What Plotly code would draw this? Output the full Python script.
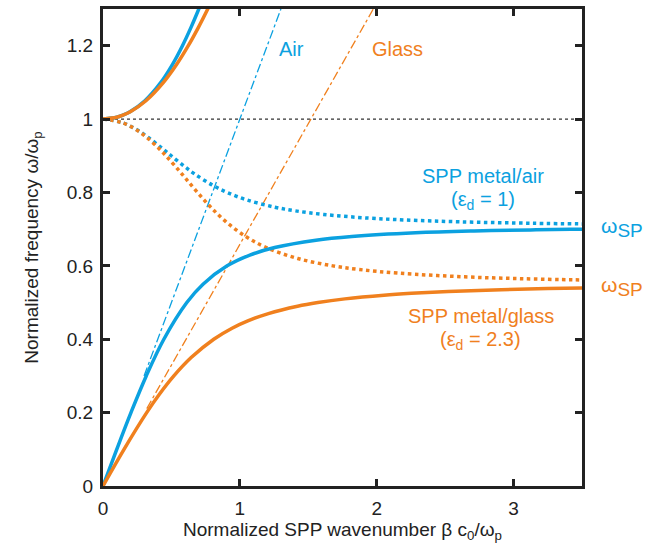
import plotly.graph_objects as go

# ---- data: frequency w/wp and wavenumber beta c0/wp ----
air_low_w = [0, 0.1, 0.2, 0.3, 0.4, 0.5, 0.55, 0.6, 0.63, 0.65, 0.67, 0.68, 0.69, 0.695, 0.698, 0.6995, 0.7]
air_low_b = [0, 0.1005, 0.2043, 0.316, 0.4446, 0.6124, 0.7309, 0.9071, 1.0774, 1.2546, 1.5559, 1.8182, 2.2843, 2.7121, 3.1244, 3.417, 3.535]

air_up_w = [1.0, 1.005, 1.01, 1.02, 1.05, 1.1, 1.15, 1.2, 1.25, 1.3, 1.32]
air_up_b = [0, 0.0996, 0.1404, 0.1972, 0.3062, 0.4230, 0.5092, 0.5805, 0.6431, 0.7000, 0.7215]

air_dot_w = [1.0, 0.99, 0.97, 0.95, 0.92, 0.9, 0.87, 0.85, 0.82, 0.8, 0.78, 0.76, 0.75, 0.74, 0.73, 0.725, 0.72, 0.716, 0.714]
air_dot_b = [0, 0.1425, 0.2511, 0.3306, 0.4332, 0.4982, 0.5984, 0.6712, 0.7993, 0.9071, 1.0483, 1.2538, 1.4031, 1.6131, 1.9450, 2.2057, 2.6047, 3.1417, 3.5715]

gl_low_w = [0, 0.1, 0.2, 0.25, 0.3, 0.35, 0.4, 0.43, 0.45, 0.47, 0.49, 0.5, 0.51, 0.52, 0.525, 0.53, 0.535, 0.538, 0.54]
gl_low_b = [0, 0.1535, 0.3190, 0.4120, 0.5176, 0.6442, 0.8093, 0.9430, 1.0581, 1.2085, 1.4215, 1.5698, 1.7676, 2.0528, 2.2534, 2.5222, 2.9108, 3.2482, 3.5490]

gl_up_w = [1.0, 1.005, 1.01, 1.02, 1.05, 1.1, 1.15, 1.2, 1.25, 1.3, 1.32]
gl_up_b = [0, 0.100, 0.1412, 0.1993, 0.3139, 0.4419, 0.5400, 0.6232, 0.6974, 0.7655, 0.7914]

gl_dot_w = [1.0, 0.99, 0.97, 0.95, 0.92, 0.9, 0.87, 0.84, 0.8, 0.76, 0.72, 0.68, 0.65, 0.62, 0.6, 0.59, 0.58, 0.57, 0.565, 0.562, 0.5615]
gl_dot_b = [0, 0.1417, 0.2465, 0.3199, 0.4084, 0.4600, 0.5316, 0.5997, 0.6903, 0.7870, 0.8989, 1.0427, 1.1931, 1.4237, 1.6789, 1.8733, 2.1593, 2.6439, 3.0582, 3.4283, 3.5047]

air_light_b = [0.3, 1.3]
air_light_w = [0.3, 1.3]
gl_light_b = [0.32, 1.975]
gl_light_w = [0.211, 1.30]

wp_line_b = [0, 3.5]
wp_line_w = [1, 1]

x_ticks = [0, 1, 2, 3]
y_ticks = [0, 0.2, 0.4, 0.6, 0.8, 1.0, 1.2]
y_tick_text = ["0", "0.2", "0.4", "0.6", "0.8", "1", "1.2"]

X_MAX = 3.5
Y_MAX = 1.3

BLUE = "#0BA1E0"
ORANGE = "#F0801E"
FONT = "Liberation Sans, Arial, sans-serif"
DARK = "#222222"

fig = go.Figure()

def add(x, y, color, width, dash="solid", shape="spline"):
    fig.add_trace(go.Scatter(x=x, y=y, mode="lines", showlegend=False, hoverinfo="skip",
                             line=dict(color=color, width=width, dash=dash, shape=shape, smoothing=1.0)))

add(wp_line_b, wp_line_w, "#333333", 1.3, "dot", "linear")
add(air_light_b, air_light_w, BLUE, 1.3, "dashdot", "linear")
add(gl_light_b, gl_light_w, ORANGE, 1.3, "dashdot", "linear")
add(air_dot_b, air_dot_w, BLUE, 3.5, "dot")
add(gl_dot_b, gl_dot_w, ORANGE, 3.5, "dot")
add(air_up_b, air_up_w, BLUE, 3.5)
add(gl_up_b, gl_up_w, ORANGE, 3.5)
add(air_low_b, air_low_w, BLUE, 3.5)
add(gl_low_b, gl_low_w, ORANGE, 3.5)

axis_common = dict(showline=True, linewidth=3, linecolor=DARK, mirror="ticks",
                   ticks="inside", ticklen=7, tickwidth=3, tickcolor=DARK,
                   showgrid=False, zeroline=False, ticklabelstandoff=3,
                   tickfont=dict(family=FONT, size=19, color=DARK))

fig.update_xaxes(range=[0, X_MAX], tickvals=x_ticks, ticktext=[str(v) for v in x_ticks],
                 title=dict(text="Normalized SPP wavenumber β c<sub>0</sub>/ω<sub>p</sub>",
                            font=dict(family=FONT, size=19, color=DARK), standoff=4),
                 **axis_common)
fig.update_yaxes(range=[0, Y_MAX], tickvals=y_ticks, ticktext=y_tick_text,
                 title=dict(text="Normalized frequency ω/ω<sub>p</sub>",
                            font=dict(family=FONT, size=19, color=DARK), standoff=24),
                 **axis_common)

def note(text, x, y, color, xanchor="center", size=20, xref="x", yref="y"):
    fig.add_annotation(text=text, x=x, y=y, xref=xref, yref=yref, showarrow=False,
                       xanchor=xanchor, yanchor="middle",
                       font=dict(family=FONT, size=size, color=color))

note("Air", 1.27, 1.19, BLUE, "left")
note("Glass", 1.95, 1.19, ORANGE, "left")
note("SPP metal/air", 2.78, 0.846, BLUE)
note("(ε<sub>d</sub> = 1)", 2.78, 0.778, BLUE)
note("SPP metal/glass", 2.76, 0.462, ORANGE)
note("(ε<sub>d</sub> = 2.3)", 2.76, 0.397, ORANGE)
# labels beyond the right axis (paper coordinates)
WSP = "ω<sub><span style=\"font-size:19px\">SP</span></sub>"
note(WSP, 1.035, 0.705 / Y_MAX, BLUE, "left", 21, "paper", "paper")
note(WSP, 1.035, 0.545 / Y_MAX, ORANGE, "left", 21, "paper", "paper")

fig.update_layout(width=656, height=546, margin=dict(l=103, r=74, t=6, b=60),
                  paper_bgcolor="white", plot_bgcolor="white",
                  font=dict(family=FONT))

fig.write_html("out.html")
